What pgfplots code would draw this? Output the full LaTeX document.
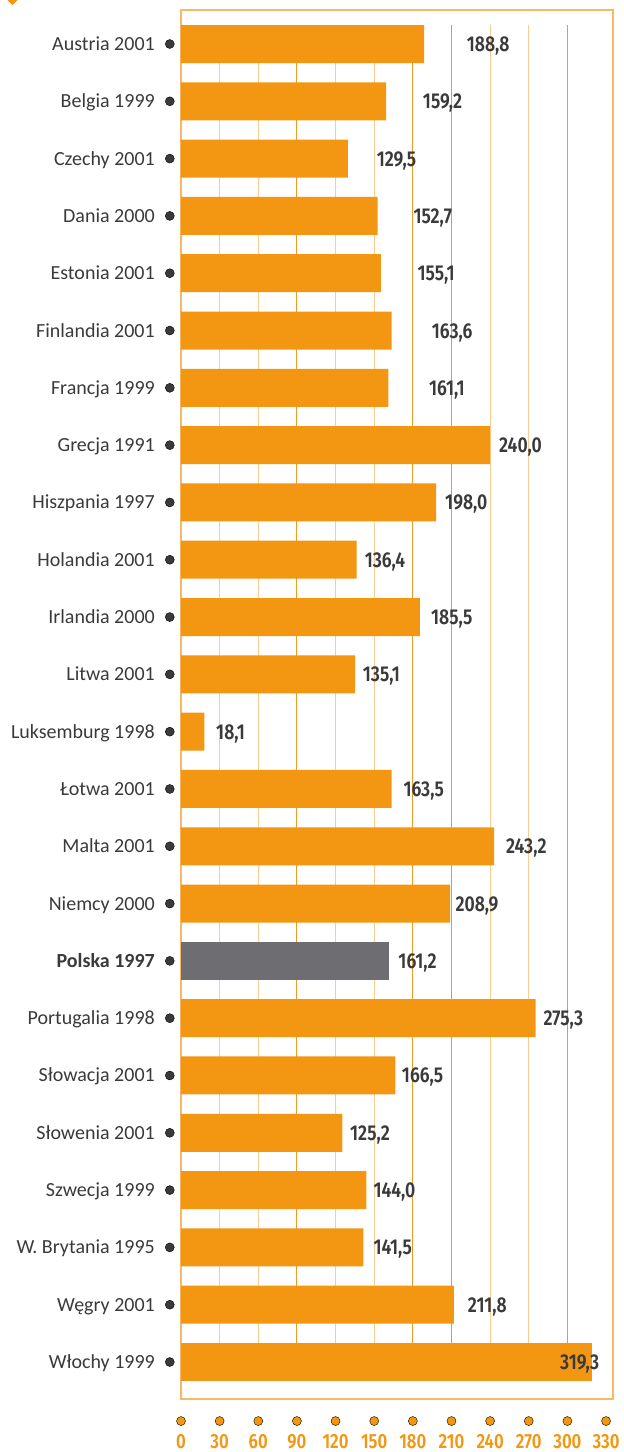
\documentclass[border=0pt]{standalone}
\usepackage{pgfplots}
\usepackage{pgfplotstable}
\pgfplotsset{compat=1.18}
\usepackage{fontspec}
\setmainfont{Carlito}
\newfontfamily\valfont[FakeStretch=0.82]{Fira Sans SemiBold}
\definecolor{ora}{HTML}{F39612}
\definecolor{polgray}{HTML}{6E6D72}
\definecolor{framec}{HTML}{F8B865}
\definecolor{gridpale}{HTML}{F9CC92}
\definecolor{griddark}{HTML}{F09A26}
\definecolor{txt}{HTML}{3A3A3C}

\pgfplotstableread{
y val lx lab
0 188.8 221.8 188,8
1 159.2 187.7 159,2
2 129.5 151.9 129,5
3 152.7 180.4 152,7
4 155.1 183.5 155,1
5 163.6 194.6 163,6
6 161.1 192.5 161,1
7 240.0 246.9 240,0
8 198.0 205.0 198,0
9 136.4 142.6 136,4
10 185.5 194.1 185,5
11 135.1 141.1 135,1
12 18.1 27.2 18,1
13 163.5 172.6 163,5
14 243.2 252.3 243,2
15 208.9 213.0 208,9
17 275.3 281.3 275,3
18 166.5 171.4 166,5
19 125.2 131.2 125,2
20 144.0 149.3 144,0
21 141.5 149.3 141,5
22 211.8 222.6 211,8
}\data
\pgfplotstableread{
y val lx lab
16 161.2 168.7 161,2
}\polska
\pgfplotstableread{
y val lx lab
23 319.3 324.8 319,3
}\wlochy
\pgfplotstableread{
x y
-8.7 0
-8.7 1
-8.7 2
-8.7 3
-8.7 4
-8.7 5
-8.7 6
-8.7 7
-8.7 8
-8.7 9
-8.7 10
-8.7 11
-8.7 12
-8.7 13
-8.7 14
-8.7 15
-8.7 16
-8.7 17
-8.7 18
-8.7 19
-8.7 20
-8.7 21
-8.7 22
-8.7 23
}\leftdots
\pgfplotstableread{
x y
0 24.03
30 24.03
60 24.03
90 24.03
120 24.03
150 24.03
180 24.03
210 24.03
240 24.03
270 24.03
300 24.03
330 24.03
}\bottomdots

\begin{document}
\begin{tikzpicture}
\path[use as bounding box] (0,0) rectangle (624pt,-1452pt);
\fill[ora] (7.5pt,0pt) -- (12.5pt,-5pt) -- (17.5pt,0pt) -- cycle;
\begin{axis}[
  at={(181pt,-1399pt)}, anchor=south west,
  width=432pt, height=1389pt, scale only axis,
  xmin=0, xmax=335.4,
  ymin=-0.593, ymax=23.646, y dir=reverse,
  clip=false,
  axis line style={draw=framec, line width=1.5pt},
  tick style={draw=none},
  xtick={0,30,...,330},
  /pgf/number format/assume math mode=true,
  xticklabel style={font=\valfont\fontsize{20.5}{21}\selectfont, text=ora, anchor=base, inner sep=0pt, yshift=-49pt},
  ytick={0,...,23},
  yticklabels={Austria 2001, Belgia 1999, Czechy 2001, Dania 2000, Estonia 2001, Finlandia 2001, Francja 1999, Grecja 1991, Hiszpania 1997, Holandia 2001, Irlandia 2000, Litwa 2001, Luksemburg 1998, Łotwa 2001, Malta 2001, Niemcy 2000, \textbf{Polska 1997}, Portugalia 1998, Słowacja 2001, Słowenia 2001, Szwecja 1999, W. Brytania 1995, Węgry 2001, Włochy 1999},
  yticklabel style={font=\fontsize{20}{21}\selectfont, text=txt, anchor=base east, inner sep=0pt, xshift=-26pt, yshift=-6.5pt},
]
\pgfplotsinvokeforeach{30,60,120,150,240,270}{\draw[gridpale, line width=1.2pt] (axis cs:#1,-0.33) -- (axis cs:#1,23.33);}
\pgfplotsinvokeforeach{90,180,210,300}{\draw[griddark, line width=1pt] (axis cs:#1,-0.33) -- (axis cs:#1,23.33);}
\addplot[xbar, bar width=38pt, bar shift=0pt, fill=ora, draw=none] table[x=val, y=y] {\data};
\addplot[xbar, bar width=38pt, bar shift=0pt, fill=polgray, draw=none] table[x=val, y=y] {\polska};
\addplot[xbar, bar width=38pt, bar shift=0pt, fill=ora, draw=none] table[x=val, y=y] {\wlochy};
\addplot[draw=none, mark=none, nodes near coords, point meta=explicit symbolic,
  every node near coord/.append style={anchor=base west, inner sep=0pt, yshift=-7.5pt, text=txt, font=\valfont\fontsize{21.5}{22}\selectfont}]
  table[x=lx, y=y, meta=lab] {\data};
\addplot[draw=none, mark=none, nodes near coords, point meta=explicit symbolic,
  every node near coord/.append style={anchor=base west, inner sep=0pt, yshift=-7.5pt, text=txt, font=\valfont\fontsize{21.5}{22}\selectfont}]
  table[x=lx, y=y, meta=lab] {\polska};
\addplot[draw=none, mark=none, nodes near coords, point meta=explicit symbolic,
  every node near coord/.append style={anchor=base east, inner sep=0pt, yshift=-7.5pt, text=txt, font=\valfont\fontsize{21.5}{22}\selectfont}]
  table[x=lx, y=y, meta=lab] {\wlochy};
\addplot[only marks, mark=*, mark size=4.5pt, mark options={fill=txt, draw=none}] table[x=x, y=y] {\leftdots};
\addplot[only marks, mark=*, mark size=4.5pt, mark options={fill=ora, draw=none}] table[x=x, y=y] {\bottomdots};
\end{axis}
\end{tikzpicture}
\end{document}
